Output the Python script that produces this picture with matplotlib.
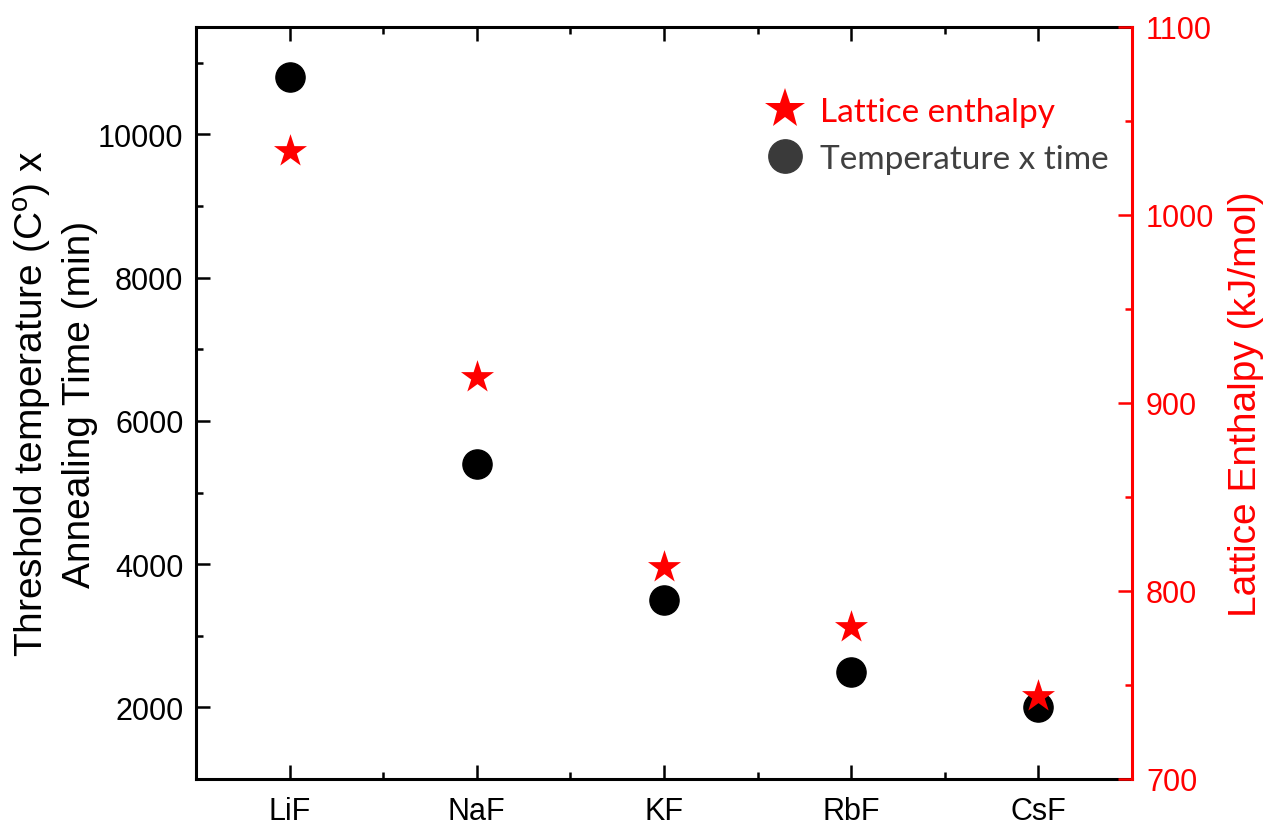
import matplotlib
matplotlib.use("Agg")
import matplotlib.pyplot as plt
from matplotlib.lines import Line2D
from matplotlib.ticker import MultipleLocator

# ---- data ----
salts = ["LiF", "NaF", "KF", "RbF", "CsF"]
temp_time = [10800, 5400, 3500, 2500, 2000]          # Threshold temperature x annealing time
lattice_enthalpy = [1034, 914, 813, 781, 744]          # kJ/mol

plt.rcParams["font.family"] = ["Liberation Sans", "DejaVu Sans"]
plt.rcParams["mathtext.default"] = "regular"

fig = plt.figure(figsize=(12.69, 8.28), dpi=100)
ax = fig.add_axes([196/1269, 48/828, (1132-196)/1269, (780-28)/828])
ax2 = ax.twinx()

x = list(range(len(salts)))
ax.scatter(x, temp_time, s=21**2, marker="o", color="black", zorder=3)
ax2.scatter(x, lattice_enthalpy, s=25**2, marker="*", color="red", zorder=4, linewidths=0)

ax.set_xlim(-0.5, len(salts) - 0.5)
ax.set_ylim(1000, 11500)
ax2.set_ylim(700, 1100)

ax.set_xticks(x)
ax.set_xticklabels(salts)
ax.set_xticks([i + 0.5 for i in x[:-1]], minor=True)
ax.yaxis.set_minor_locator(MultipleLocator(1000))
ax.set_yticks([2000, 4000, 6000, 8000, 10000])
ax2.yaxis.set_major_locator(MultipleLocator(100))
ax2.yaxis.set_minor_locator(MultipleLocator(50))

lw = 2.2
for s in ["left", "bottom", "top"]:
    ax.spines[s].set_linewidth(lw)
ax.spines["right"].set_visible(False)
for s in ["left", "bottom", "top"]:
    ax2.spines[s].set_visible(False)
ax2.spines["right"].set_linewidth(lw)
ax2.spines["right"].set_color("red")

ax.tick_params(axis="both", which="major", direction="in", length=10, width=1.8,
               labelsize=22, top=True, right=False)
ax.tick_params(axis="both", which="minor", direction="in", length=5, width=1.8,
               top=True, right=False)
ax.tick_params(axis="y", which="major", pad=9)
ax.tick_params(axis="x", which="major", pad=12)
ax2.tick_params(axis="y", which="major", direction="in", length=10, width=1.8,
                labelsize=22, colors="red", pad=10)
ax2.tick_params(axis="y", which="minor", direction="in", length=5, width=1.8, colors="red")

ax.set_ylabel("Threshold temperature (C$^{o}$) x\nAnnealing Time (min)", fontsize=28,
              labelpad=0, linespacing=1.3)
ax2.set_ylabel("Lattice Enthalpy (kJ/mol)", fontsize=28, color="red", labelpad=10)

handles = [
    Line2D([], [], marker="*", color="red", linestyle="none", markersize=30, markeredgewidth=0),
    Line2D([], [], marker="o", color="#3a3a3a", linestyle="none", markersize=24),
]
leg = ax.legend(handles, ["Lattice enthalpy", "Temperature x time"], loc="upper left",
                bbox_to_anchor=(0.608, 0.907), frameon=False, borderaxespad=0, borderpad=0,
                handlelength=1.2, handletextpad=0.45, labelspacing=0.5,
                prop={"family": ["Lato", "DejaVu Sans"], "size": 24})
leg.get_texts()[0].set_color("red")
leg.get_texts()[1].set_color("#404040")

fig.savefig("out.png", dpi=100)
